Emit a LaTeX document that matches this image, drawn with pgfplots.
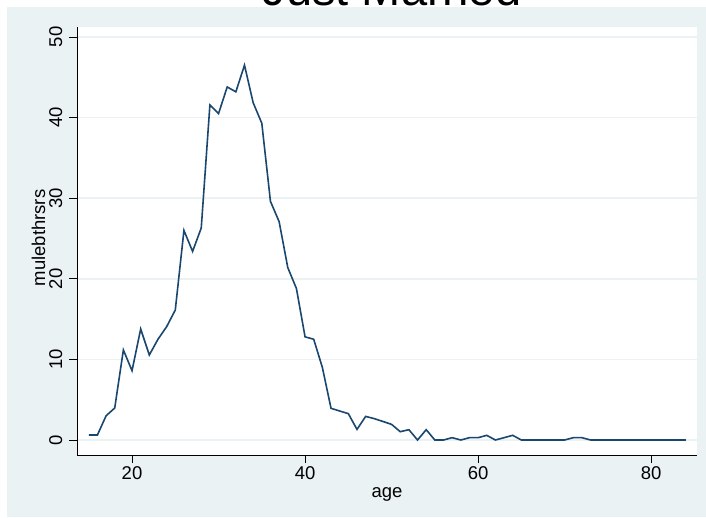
\documentclass[border=0pt]{standalone}
\usepackage{fontspec}
\setmainfont{Liberation Sans}
\usepackage{pgfplots}
\pgfplotsset{compat=1.18}
\definecolor{stbg}{RGB}{234,242,243}
\definecolor{stnavy}{RGB}{26,71,111}
\pgfplotstableread{
age y
15 0.62
16 0.62
17 3.0
18 3.97
19 11.17
20 8.6
21 13.77
22 10.55
23 12.5
24 14.06
25 16.13
26 26.0
27 23.4
28 26.3
29 41.56
30 40.5
31 43.8
32 43.2
33 46.5
34 41.85
35 39.3
36 29.6
37 27.1
38 21.4
39 18.8
40 12.8
41 12.5
42 9.0
43 3.93
44 3.6
45 3.27
46 1.32
47 2.93
48 2.65
49 2.3
50 1.94
51 1.03
52 1.28
53 0
54 1.28
55 0
56 0
57 0.29
58 0
59 0.29
60 0.29
61 0.58
62 0
63 0.29
64 0.58
65 0
66 0
67 0
68 0
69 0
70 0
71 0.29
72 0.29
73 0
74 0
75 0
76 0
77 0
78 0
79 0
80 0
81 0
82 0
83 0
84 0
}\datatable
\begin{document}
\begin{tikzpicture}[x=1pt,y=1pt]
\useasboundingbox (0,0) rectangle (706,517);
\fill[stbg] (7,0) rectangle (706,510);
\begin{axis}[
  at={(77pt,62pt)}, anchor=south west,
  scale only axis, width=620pt, height=428pt,
  xmin=13.64, xmax=85.3, ymin=-1.86, ymax=51.24,
  axis background/.style={fill=white},
  axis x line*=bottom, axis y line*=left,
  axis line style={-, black, line width=0.8pt},
  xtick={20,40,60,80}, ytick={0,10,20,30,40,50},
  tick align=outside, major tick length=8pt,
  tick style={black, line width=0.8pt},
  xtick pos=bottom, ytick pos=left,
  ymajorgrids, grid style={stbg, line width=1.5pt},
  tick label style={font=\fontsize{18.5}{20}\selectfont},
  label style={font=\fontsize{18.5}{20}\selectfont},
  /pgf/number format/assume math mode=true,
  xticklabel style={anchor=base, yshift=-16pt},
  yticklabel style={xshift=-7pt, rotate=90, anchor=base},
  xlabel={age}, ylabel={mulebthrsrs},
  xlabel style={at={([yshift=-42pt]axis description cs:0.5,0)}, anchor=base},
  ylabel style={at={([xshift=-32pt]axis description cs:0,0.507)}, anchor=base},
]
\addplot[stnavy, line width=1.6pt, mark=none] table[x=age,y=y] {\datatable};
\end{axis}
\node[anchor=base, font=\fontsize{47}{50}\selectfont] at (392,511) {Just Married};
\end{tikzpicture}
\end{document}
